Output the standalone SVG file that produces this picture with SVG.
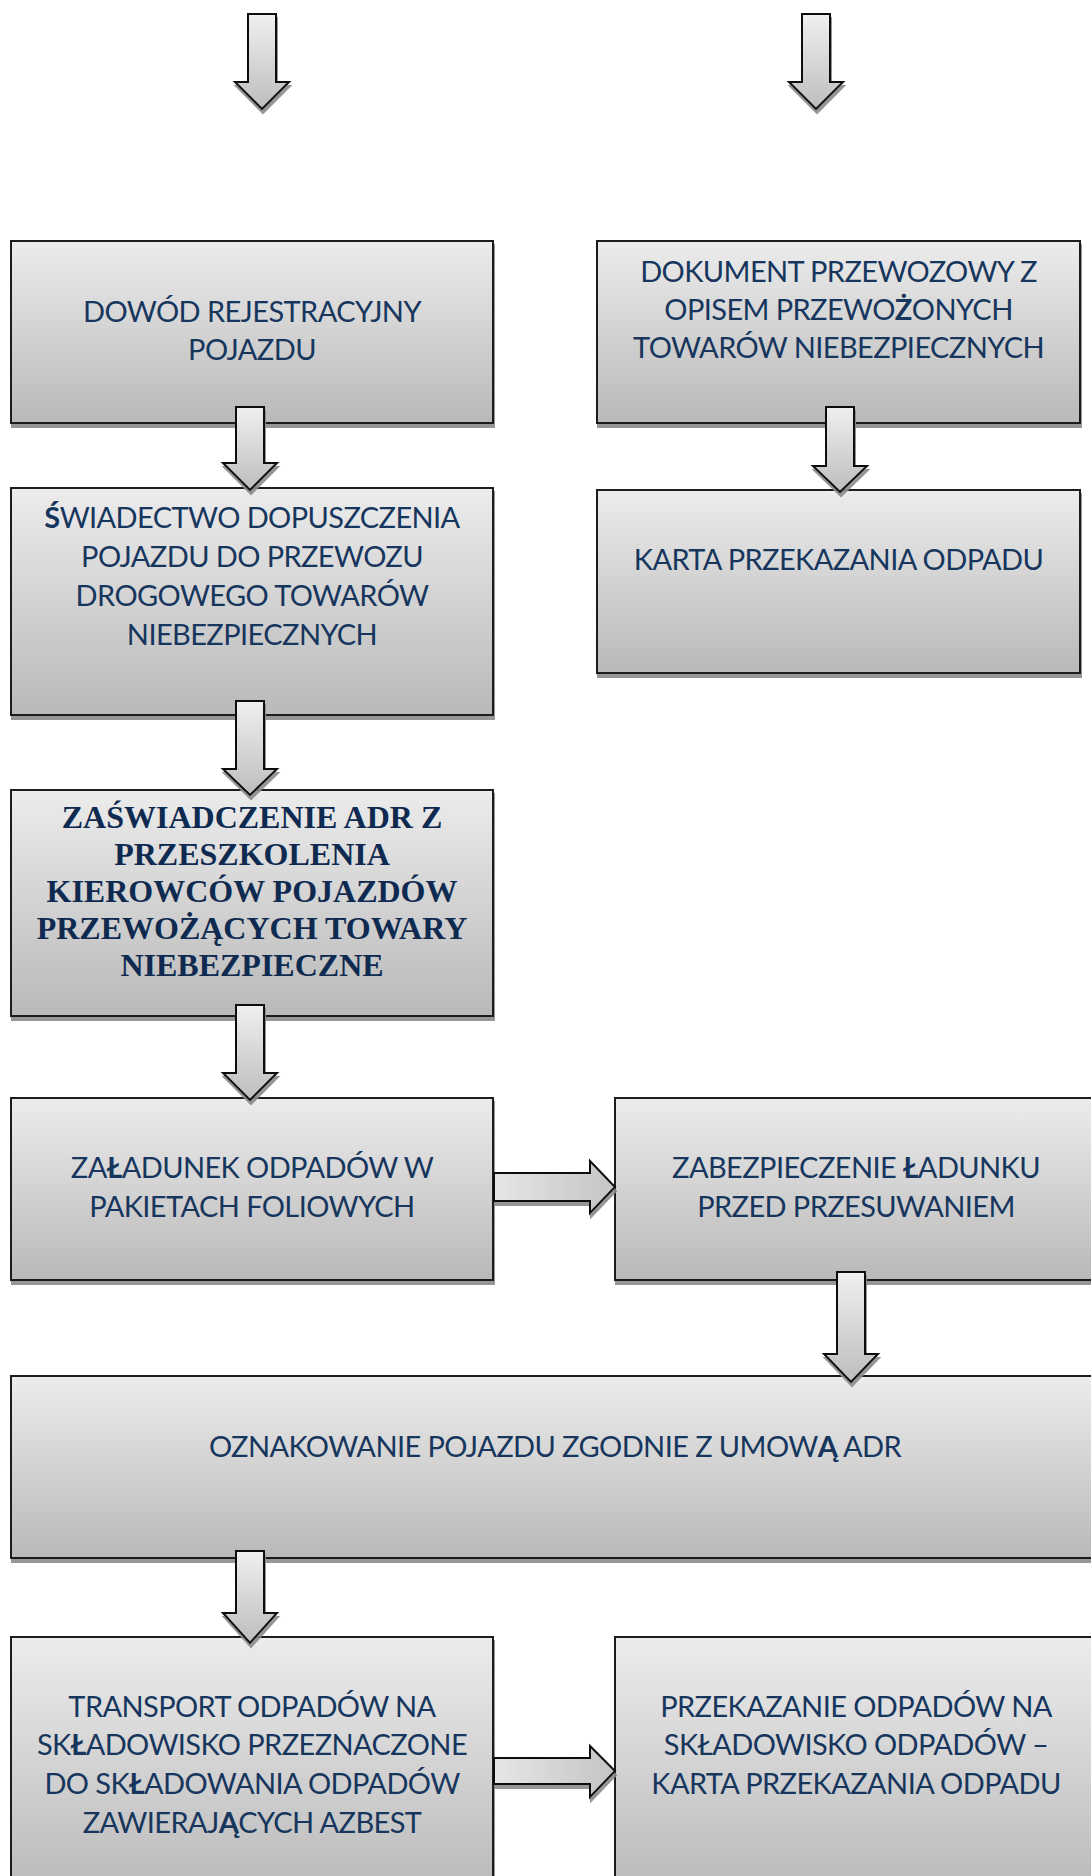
<svg xmlns="http://www.w3.org/2000/svg" width="1091" height="1876" viewBox="0 0 1091 1876">
<defs>
<linearGradient id="gBox" x1="0" y1="0" x2="0" y2="1">
<stop offset="0" stop-color="#ececec"/>
<stop offset="1" stop-color="#b9b9b9"/>
</linearGradient>
<linearGradient id="gArr" x1="0" y1="0" x2="0" y2="1">
<stop offset="0" stop-color="#f0f0f0"/>
<stop offset="1" stop-color="#bdbdbd"/>
</linearGradient>
<linearGradient id="gArrH" x1="0" y1="0" x2="1" y2="0">
<stop offset="0" stop-color="#e6e6e6"/>
<stop offset="1" stop-color="#c4c4c4"/>
</linearGradient>
<filter id="sh" x="-5%" y="-5%" width="115%" height="115%">
<feDropShadow dx="1" dy="4" stdDeviation="0.6" flood-color="#8a8a8a" flood-opacity="0.9"/>
</filter>
</defs>
<style>
.box{fill:url(#gBox);stroke:#1a1a1a;stroke-width:2;filter:url(#sh)}
.arr{fill:url(#gArr);stroke:#111;stroke-width:2;stroke-linejoin:miter;filter:url(#sh)}
.arrh{fill:url(#gArrH);stroke:#111;stroke-width:2;filter:url(#sh)}
.t{font-family:Lato,"Open Sans","Liberation Sans",sans-serif;font-size:29px;letter-spacing:-0.6px;fill:#17365d;text-anchor:middle}
.tb{font-family:"Liberation Serif","Times New Roman",serif;font-weight:bold;font-size:32px;fill:#0f2a50;text-anchor:middle}
.b{font-weight:bold}
</style>
<rect width="1091" height="1876" fill="#ffffff"/>

<g id="n-dowod">
<rect class="box" x="11" y="241" width="482" height="182"/>
<text class="t" x="252" y="322">DOWÓD REJESTRACYJNY</text>
<text class="t" x="252" y="360">POJAZDU</text>
</g>

<g id="n-dokument">
<rect class="box" x="597" y="241" width="483" height="182"/>
<text class="t" x="838.5" y="282">DOKUMENT PRZEWOZOWY Z</text>
<text class="t" x="838.5" y="320">OPISEM PRZEWO<tspan class="b">Ż</tspan>ONYCH</text>
<text class="t" x="838.5" y="358">TOWARÓW NIEBEZPIECZNYCH</text>
</g>

<g id="n-swiadectwo">
<rect class="box" x="11" y="488" width="482" height="227"/>
<text class="t" x="252" y="528"><tspan class="b">Ś</tspan>WIADECTWO DOPUSZCZENIA</text>
<text class="t" x="252" y="567">POJAZDU DO PRZEWOZU</text>
<text class="t" x="252" y="606">DROGOWEGO TOWARÓW</text>
<text class="t" x="252" y="645">NIEBEZPIECZNYCH</text>
</g>

<g id="n-karta">
<rect class="box" x="597" y="490" width="483" height="183"/>
<text class="t" x="838.5" y="570">KARTA PRZEKAZANIA ODPADU</text>
</g>

<g id="n-zaswiadczenie">
<rect class="box" x="11" y="790" width="482" height="226"/>
<text class="tb" x="252" y="828">ZAŚWIADCZENIE ADR Z</text>
<text class="tb" x="252" y="865">PRZESZKOLENIA</text>
<text class="tb" x="252" y="902">KIEROWCÓW POJAZDÓW</text>
<text class="tb" x="252" y="939">PRZEWOŻĄCYCH TOWARY</text>
<text class="tb" x="252" y="976">NIEBEZPIECZNE</text>
</g>

<g id="n-zaladunek">
<rect class="box" x="11" y="1098" width="482" height="182"/>
<text class="t" x="252" y="1178">ZA<tspan class="b">Ł</tspan>ADUNEK ODPADÓW W</text>
<text class="t" x="252" y="1217">PAKIETACH FOLIOWYCH</text>
</g>

<g id="n-zabezpieczenie">
<rect class="box" x="615" y="1098" width="482" height="182"/>
<text class="t" x="856" y="1178">ZABEZPIECZENIE <tspan class="b">Ł</tspan>ADUNKU</text>
<text class="t" x="856" y="1217">PRZED PRZESUWANIEM</text>
</g>

<g id="n-oznakowanie">
<rect class="box" x="11" y="1376" width="1090" height="182"/>
<text class="t" x="555" y="1457">OZNAKOWANIE POJAZDU ZGODNIE Z UMOW<tspan class="b">Ą</tspan> ADR</text>
</g>

<g id="n-transport">
<rect class="box" x="11" y="1637" width="482" height="260"/>
<text class="t" x="252" y="1717">TRANSPORT ODPADÓW NA</text>
<text class="t" x="252" y="1755">SK<tspan class="b">Ł</tspan>ADOWISKO PRZEZNACZONE</text>
<text class="t" x="252" y="1794">DO SK<tspan class="b">Ł</tspan>ADOWANIA ODPADÓW</text>
<text class="t" x="252" y="1833">ZAWIERAJ<tspan class="b">Ą</tspan>CYCH AZBEST</text>
</g>

<g id="n-przekazanie">
<rect class="box" x="615" y="1637" width="482" height="260"/>
<text class="t" x="856" y="1717">PRZEKAZANIE ODPADÓW NA</text>
<text class="t" x="856" y="1755">SKŁADOWISKO ODPADÓW –</text>
<text class="t" x="856" y="1794">KARTA PRZEKAZANIA ODPADU</text>
</g>

<g id="connectors">
<path class="arr" d="M248,14 H276 V82 H289 L262,109 L235,82 H248 Z"/>
<path class="arr" d="M802,14 H830 V82 H843 L816,109 L789,82 H802 Z"/>
<path class="arr" d="M236,407 H264 V463 H277 L250,490 L223,463 H236 Z"/>
<path class="arr" d="M826,407 H854 V466 H867 L840,492 L813,466 H826 Z"/>
<path class="arr" d="M236,701 H264 V769 H277 L250,795 L223,769 H236 Z"/>
<path class="arr" d="M236,1005 H264 V1073 H277 L250,1100 L223,1073 H236 Z"/>
<path class="arr" d="M837,1272 H865 V1354 H878 L851,1382 L824,1354 H837 Z"/>
<path class="arr" d="M236,1551 H264 V1613 H277 L250,1643 L223,1613 H236 Z"/>
<path class="arrh" d="M494,1173 H590 V1161 L615,1187 L590,1213 V1201 H494 Z"/>
<path class="arrh" d="M494,1758 H590 V1746 L615,1771 L590,1797 V1784 H494 Z"/>
</g>
</svg>
